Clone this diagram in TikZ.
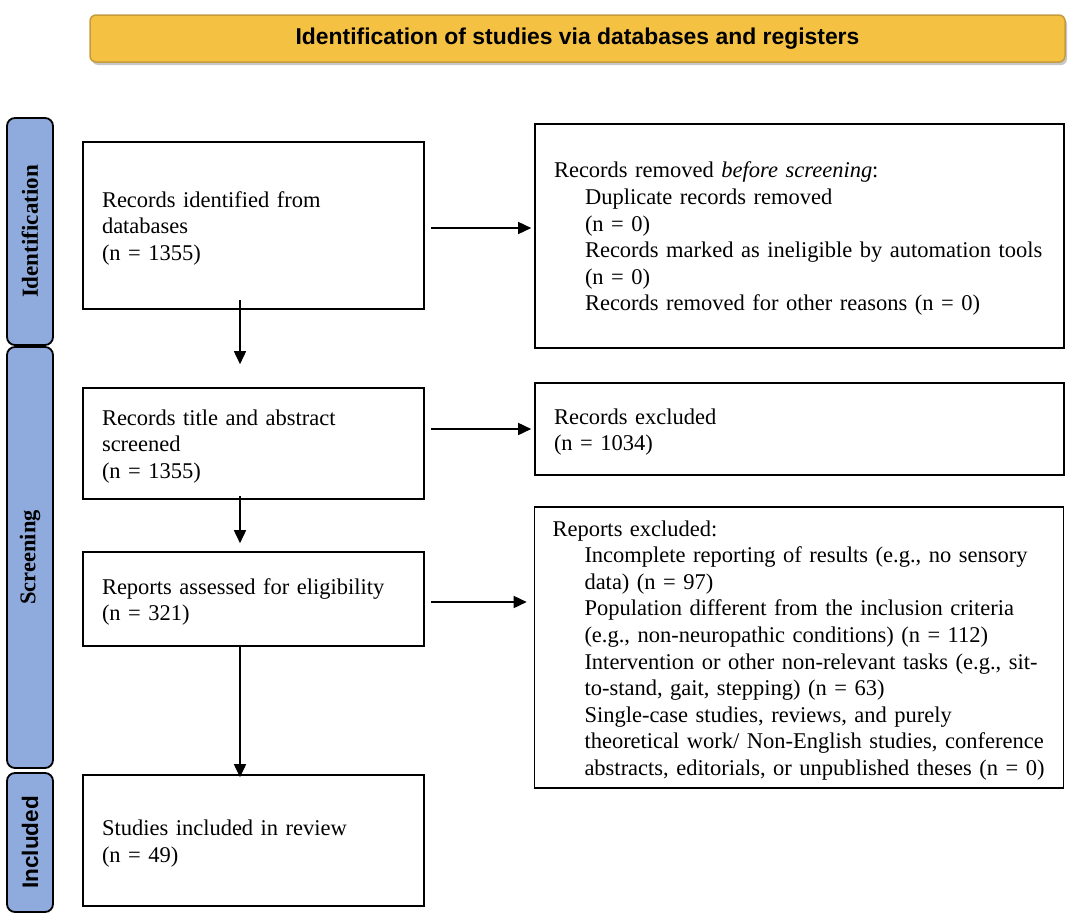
\documentclass[tikz,border=0pt]{standalone}
\usepackage{fontspec}
\setmainfont{Liberation Serif}
\newfontfamily\sansfont{Liberation Sans}
\usetikzlibrary{arrows.meta,positioning,calc}
\definecolor{bannerfill}{RGB}{245,193,66}
\definecolor{bannerdraw}{RGB}{196,156,64}
\definecolor{stagefill}{RGB}{143,170,220}
\begin{document}
\begin{tikzpicture}[x=1pt,y=-1pt,
  box/.style={draw, line width=1.6pt, rectangle, align=left, inner xsep=19pt, inner ysep=0pt,
    font=\fontsize{22.5}{26.6}\selectfont, execute at begin node={\rule{0pt}{21.5pt}}},
  stage/.style={draw, line width=1.8pt, rounded corners=8pt, fill=stagefill, rotate=90,
    minimum height=46pt, inner sep=0pt},
  arr/.style={line width=1.6pt, -{Triangle[length=13pt,width=12pt]}}
]
\useasboundingbox (0,0) rectangle (1076,918);

% banner
\fill[black!22, rounded corners=6pt] (92,18) rectangle (1067,65);
\node[draw=bannerdraw, fill=bannerfill, line width=1.5pt, rounded corners=6pt,
  minimum width=975pt, minimum height=47pt, inner sep=0pt,
  font=\sansfont\bfseries\fontsize{22.9}{26}\selectfont] (banner) at (577.5,38.5)
  {Identification of studies via databases and registers};

% stage labels
\node[stage, minimum width=227pt, font=\bfseries\fontsize{23}{24}\selectfont] (sid) at (30,231.5) {Identification};
\node[stage, minimum width=421pt, font=\bfseries\fontsize{22.5}{24}\selectfont] (ssc) at (30,557.5) {Screening};
\node[stage, minimum width=139pt, font=\sansfont\bfseries\fontsize{22.5}{24}\selectfont] (sin) at (30,842.5) {Included};

% left boxes
\node[box, text width=303pt, minimum height=167pt] (b1) at (253.5,225.5)
  {Records identified from\\databases\\(n = 1355)};
\node[box, text width=303pt, minimum height=111pt] (b2) at (253.5,443.5)
  {Records title and abstract\\screened\\(n = 1355)};
\node[box, text width=303pt, minimum height=94pt] (b3) at (253.5,599)
  {Reports assessed for eligibility\\(n = 321)};
\node[box, text width=303pt, minimum height=131pt] (b4) at (253.5,840.5)
  {Studies included in review\\(n = 49)};

% right boxes
\node[box, text width=491pt, minimum height=224pt] (r1) at (799.5,236)
  {Records removed \textit{before screening}:\\
   \hspace*{31pt}Duplicate records removed\\
   \hspace*{31pt}(n = 0)\\
   \hspace*{31pt}Records marked as ineligible by automation tools\\
   \hspace*{31pt}(n = 0)\\
   \hspace*{31pt}Records removed for other reasons (n = 0)};
\node[box, text width=491pt, minimum height=92pt] (r2) at (799.5,429)
  {Records excluded\\(n = 1034)};
\node[box, text width=493pt, minimum height=281pt, inner xsep=18pt] (r3) at (799,647.5)
  {Reports excluded:\\
   \hspace*{32pt}Incomplete reporting of results (e.g., no sensory\\
   \hspace*{32pt}data) (n = 97)\\
   \hspace*{32pt}Population different from the inclusion criteria\\
   \hspace*{32pt}(e.g., non-neuropathic conditions) (n = 112)\\
   \hspace*{32pt}Intervention or other non-relevant tasks (e.g., sit-\\
   \hspace*{32pt}to-stand, gait, stepping) (n = 63)\\
   \hspace*{32pt}Single-case studies, reviews, and purely\\
   \hspace*{32pt}theoretical work/ Non-English studies, conference\\
   \hspace*{32pt}abstracts, editorials, or unpublished theses (n = 0)};

% horizontal arrows
\coordinate (a1s) at ([xshift=6pt,yshift=-2.5pt]b1.east);
\draw[arr] (a1s) -- ([xshift=-3pt]a1s -| r1.west);
\coordinate (a2s) at ([xshift=6pt]b2.east |- r2.west);
\draw[arr] (a2s) -- ([xshift=-3pt]r2.west);
\coordinate (a3s) at ([xshift=6pt,yshift=-3pt]b3.east);
\draw[arr] (a3s) -- ([xshift=-7pt]a3s -| r3.west);

% vertical arrows
\draw[arr] ([xshift=-13.5pt,yshift=10pt]b1.south) -- ([xshift=-13.5pt,yshift=23pt]b2.north);
\draw[arr] ([xshift=-13.5pt,yshift=4pt]b2.south) -- ([xshift=-13.5pt,yshift=8pt]b3.north);
\draw[arr] ([xshift=-13.5pt]b3.south) -- ([xshift=-13.5pt,yshift=-3pt]b4.north);
\end{tikzpicture}
\end{document}
